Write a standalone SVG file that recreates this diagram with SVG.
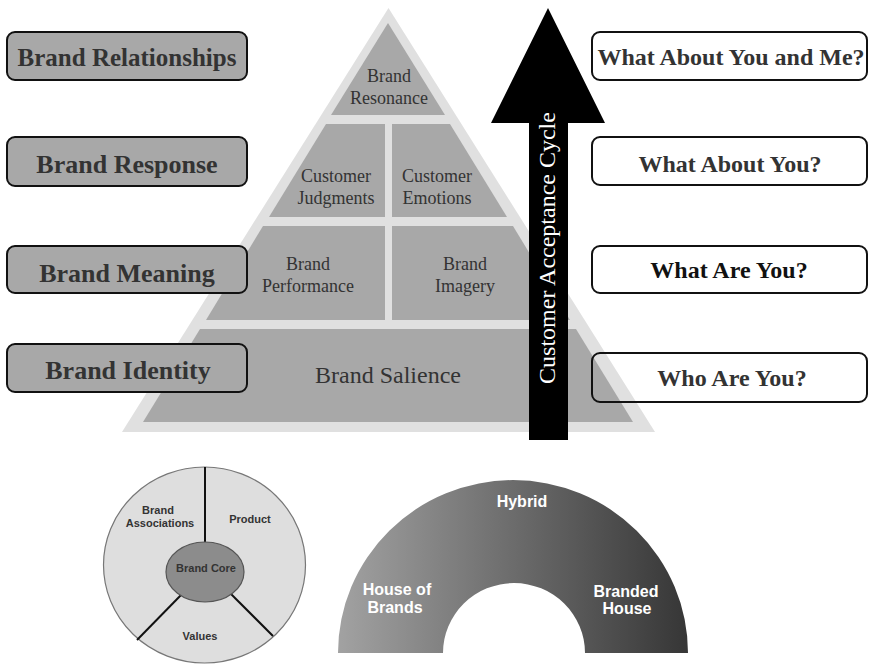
<svg xmlns="http://www.w3.org/2000/svg" width="869" height="666" viewBox="0 0 869 666">
<defs>
<linearGradient id="archGrad" x1="0" y1="0" x2="1" y2="0">
<stop offset="0" stop-color="#a2a2a2"/>
<stop offset="1" stop-color="#363636"/>
</linearGradient>
</defs>
<style>
.outer{fill:#e0e0e0}
.cell{fill:#a8a8a8}
.ptxt{font-family:"Liberation Serif","Times New Roman",serif;fill:#333;text-anchor:middle}
.lbox{fill:#a8a8a8;stroke:#111;stroke-width:2}
.rbox{fill:none;stroke:#111;stroke-width:2}
.btxt{font-family:"Liberation Serif","Times New Roman",serif;font-weight:bold;fill:#333;text-anchor:middle}
.stxt{font-family:"Liberation Sans",Arial,sans-serif;font-weight:bold;font-size:11px;fill:#333;text-anchor:middle}
.atxt{font-family:"Liberation Sans",Arial,sans-serif;font-weight:bold;font-size:16px;fill:#fff;text-anchor:middle}
</style>
<rect width="869" height="666" fill="#fff"/>

<g id="pyramid">
<polygon class="outer" points="388.5,8 655,432 122,432"/>
<g id="resonance">
<polygon class="cell" points="388,23 445,115 331,115"/>
<text class="ptxt" x="389" y="82" font-size="18">Brand</text>
<text class="ptxt" x="389" y="104" font-size="18">Resonance</text>
</g>
<g id="judgments">
<polygon class="cell" points="326,124 385,124 385,217 269,217"/>
<text class="ptxt" x="336" y="182" font-size="18">Customer</text>
<text class="ptxt" x="336" y="204" font-size="18">Judgments</text>
</g>
<g id="emotions">
<polygon class="cell" points="392,124 450,124 507,217 392,217"/>
<text class="ptxt" x="437" y="182" font-size="18">Customer</text>
<text class="ptxt" x="437" y="204" font-size="18">Emotions</text>
</g>
<g id="performance">
<polygon class="cell" points="263,226 385,226 385,320 206,320"/>
<text class="ptxt" x="308" y="270" font-size="18">Brand</text>
<text class="ptxt" x="308" y="292" font-size="18">Performance</text>
</g>
<g id="imagery">
<polygon class="cell" points="392,226 513,226 570,320 392,320"/>
<text class="ptxt" x="465" y="270" font-size="18">Brand</text>
<text class="ptxt" x="465" y="292" font-size="18">Imagery</text>
</g>
<g id="salience">
<polygon class="cell" points="200,329 576,329 633,422 143,422"/>
<text class="ptxt" x="388" y="383" font-size="24">Brand Salience</text>
</g>
</g>

<g id="levels">
<g id="relationships">
<rect class="lbox" x="7" y="32" width="240" height="48" rx="8"/>
<text class="btxt" x="127" y="66" font-size="25">Brand Relationships</text>
</g>
<g id="response">
<rect class="lbox" x="7" y="137" width="240" height="49" rx="8"/>
<text class="btxt" x="127" y="173" font-size="26">Brand Response</text>
</g>
<g id="meaning">
<rect class="lbox" x="7" y="246" width="240" height="47" rx="8"/>
<text class="btxt" x="127" y="282" font-size="26">Brand Meaning</text>
</g>
<g id="identity">
<rect class="lbox" x="7" y="344" width="240" height="48" rx="8"/>
<text class="btxt" x="128" y="379" font-size="26">Brand Identity</text>
</g>
</g>

<g id="questions">
<g id="q-you-me">
<rect class="rbox" x="592" y="32" width="275" height="48" rx="8"/>
<text class="btxt" x="731" y="65" font-size="24">What About You and Me?</text>
</g>
<g id="q-about-you">
<rect class="rbox" x="592" y="137" width="275" height="48" rx="8"/>
<text class="btxt" x="730" y="172" font-size="24">What About You?</text>
</g>
<g id="q-what-are">
<rect class="rbox" x="592" y="246" width="275" height="47" rx="8"/>
<text class="btxt" x="729" y="278" font-size="24" fill="#111" style="fill:#111">What Are You?</text>
</g>
<g id="q-who-are">
<rect class="rbox" x="592" y="353" width="275" height="49" rx="8"/>
<text class="btxt" x="732" y="386" font-size="24">Who Are You?</text>
</g>
</g>

<g id="acceptance-arrow">
<polygon fill="#000" points="548,8 605,123 568,123 568,440 529,440 529,123 491,123"/>
<text transform="translate(555,248) rotate(-90)" font-family="'Liberation Serif','Times New Roman',serif" font-size="24" fill="#fff" text-anchor="middle">Customer Acceptance Cycle</text>
</g>

<g id="brand-core-wheel">
<ellipse cx="204.5" cy="565" rx="101" ry="98" fill="#dedede" stroke="#777" stroke-width="1.2"/>
<g stroke="#111" stroke-width="2">
<line x1="205" y1="467" x2="205" y2="543"/>
<line x1="182" y1="594" x2="137" y2="640"/>
<line x1="230" y1="593" x2="273" y2="636"/>
</g>
<ellipse cx="205" cy="572" rx="39" ry="30" fill="#8c8c8c" stroke="#555" stroke-width="1.2"/>
<text class="stxt" x="158" y="514">Brand</text>
<text class="stxt" x="160" y="527">Associations</text>
<text class="stxt" x="250" y="523">Product</text>
<text class="stxt" x="206" y="572">Brand Core</text>
<text class="stxt" x="200" y="640">Values</text>
</g>

<g id="brand-architecture-arch">
<path d="M338,653 A175,173 0 0 1 688,653 L585,653 A71,70 0 0 0 443,653 Z" fill="url(#archGrad)"/>
<text class="atxt" x="522" y="507">Hybrid</text>
<text class="atxt" x="397" y="595">House of</text>
<text class="atxt" x="395" y="613">Brands</text>
<text class="atxt" x="626" y="597">Branded</text>
<text class="atxt" x="627" y="614">House</text>
</g>
</svg>
